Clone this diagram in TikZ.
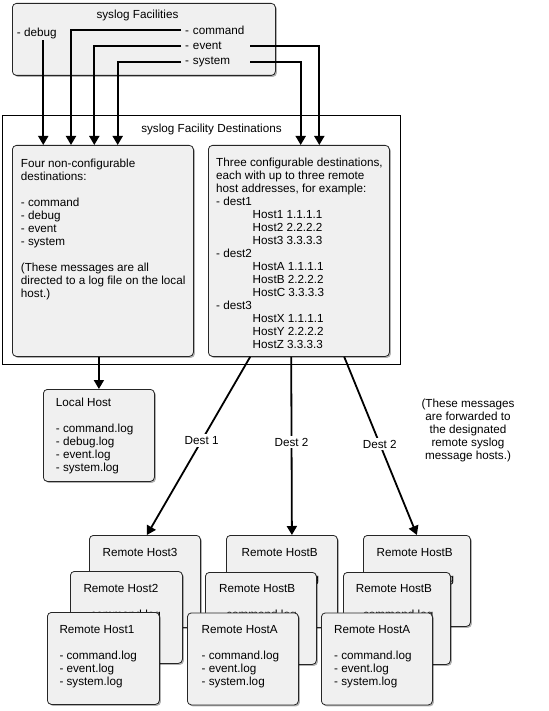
\documentclass[tikz,border=0pt]{standalone}
\usepackage{fontspec}
\setmainfont{Liberation Sans}
\usetikzlibrary{arrows.meta,shadows}
\newcommand{\fs}{\fontsize{11.7}{13}\selectfont}
\begin{document}
\begin{tikzpicture}[x=1pt,y=-1pt,
  box/.style={draw=black!85, fill=black!6, rounded corners=4pt, line width=0.8pt, anchor=north west, inner sep=0,
    drop shadow={shadow xshift=1.5pt, shadow yshift=-1.5pt, opacity=0.3, fill=black}},
  frame/.style={draw=black, line width=0.8pt, anchor=north west, inner sep=0},
  lbl/.style={inner sep=0, font=\fs},
  txt/.style={inner sep=0, font=\fs, anchor=north west, align=left},
  arr/.style={line width=1.8pt, -{Triangle[width=10pt,length=9pt]}},
  dlbl/.style={fill=white, inner sep=2pt, font=\fs}
]
\useasboundingbox (0,0) rectangle (548,711);

% facilities
\node[box, minimum width=263, minimum height=72] (fac) at (12,3) {};
\node[lbl, anchor=base] (factitle) at (137.5,19) {syslog Facilities};
\node[lbl, anchor=base west] (dbg) at (16.7,36.5) {- debug};
\node[lbl, anchor=base west, inner xsep=3pt, text width=62pt, align=left] (cmd) at (182,34.5) {- command};
\node[lbl, anchor=base west, inner xsep=3pt, text width=62pt, align=left] (evt) at (182,49.5) {- event};
\node[lbl, anchor=base west, inner xsep=3pt, text width=62pt, align=left] (sys) at (182,64.5) {- system};

% destinations frame
\node[frame, minimum width=398, minimum height=249] (dest) at (2,115) {};
\node[lbl, anchor=base] (desttitle) at (211.5,133) {syslog Facility Destinations};

\node[box, minimum width=181, minimum height=211] (left) at (12,145) {};
\node[txt] (lefttxt) at (20.7,157.9) {\strut Four non-configurable\\ destinations:\\[13pt]
- command\\ - debug\\ - event\\ - system\\[13pt]
(These messages are all\\ directed to a log file on the local\\ host.)};

\node[box, minimum width=181, minimum height=211] (right) at (208,145) {};
\node[txt] (righttxt) at (216,157.5) {\strut Three configurable destinations,\\
each with up to three remote\\ host addresses, for example:\\
- dest1\\ \hspace*{36.5pt}Host1 1.1.1.1\\ \hspace*{36.5pt}Host2 2.2.2.2\\ \hspace*{36.5pt}Host3 3.3.3.3\\
- dest2\\ \hspace*{36.5pt}HostA 1.1.1.1\\ \hspace*{36.5pt}HostB 2.2.2.2\\ \hspace*{36.5pt}HostC 3.3.3.3\\
- dest3\\ \hspace*{36.5pt}HostX 1.1.1.1\\ \hspace*{36.5pt}HostY 2.2.2.2\\ \hspace*{36.5pt}HostZ 3.3.3.3};

% local host
\node[box, minimum width=111, minimum height=92] (local) at (43,389) {};
\node[txt] (localtxt) at (55.7,397.4) {\strut Local Host\\[13pt] - command.log\\ - debug.log\\ - event.log\\ - system.log};

% note
\node[lbl, anchor=north, align=center] (note) at (468,398) {\strut(These messages\\ are forwarded to\\ the designated\\ remote syslog\\ message hosts.)};

% stack 1
\node[box, minimum width=111, minimum height=92] (h3) at (89,535) {};
\node[txt] (h3t) at (102.5,547) {\strut Remote Host3};
\node[box, minimum width=112, minimum height=92] (h2) at (70,571) {};
\node[txt] (h2t) at (83.3,583) {\strut Remote Host2\\[13pt] - command.log};
\node[box, minimum width=112, minimum height=92] (h1) at (47,612) {};
\node[txt] (h1t) at (59.3,624) {\strut Remote Host1\\[13pt] - command.log\\ - event.log\\ - system.log};

% stack 2
\node[box, minimum width=111, minimum height=92] (b2) at (226,535) {};
\node[txt] (b2t) at (241.5,547) {\strut Remote HostB\\[13pt] - command.log};
\node[box, minimum width=111, minimum height=92] (m2) at (205,572) {};
\node[txt] (m2t) at (219,583.5) {\strut Remote HostB\\[13pt] - command.log};
\node[box, minimum width=111, minimum height=92] (a2) at (187,612.5) {};
\node[txt] (a2t) at (201.5,624.5) {\strut Remote HostA\\[13pt] - command.log\\ - event.log\\ - system.log};

% stack 3
\node[box, minimum width=107, minimum height=91] (b3) at (363,535) {};
\node[txt] (b3t) at (376.5,547) {\strut Remote HostB\\[13pt] - command.log};
\node[box, minimum width=107, minimum height=92] (m3) at (343,572) {};
\node[txt] (m3t) at (355.7,583.5) {\strut Remote HostB\\[13pt] - command.log};
\node[box, minimum width=111, minimum height=92] (a3) at (321,612.5) {};
\node[txt] (a3t) at (334,624.5) {\strut Remote HostA\\[13pt] - command.log\\ - event.log\\ - system.log};

% facility arrows
\draw[arr] ([xshift=6.5pt,yshift=-1pt]dbg.south) -- ([xshift=6.5pt]dbg.south |- left.north);
\draw[arr] ([xshift=-1pt]cmd.west) -| ([xshift=59pt]left.north west);
\draw[arr] ([xshift=-1pt]evt.west) -| ([xshift=82.3pt]left.north west);
\draw[arr] ([xshift=-1pt]sys.west) -| ([xshift=105.7pt]left.north west);
\draw[arr] (evt.east) -| ([xshift=111.3pt]right.north west);
\draw[arr] (sys.east) -| ([xshift=92.7pt]right.north west);

% local
\draw[arr] (local.north |- left.south) -- (local.north);

% dest arrows
\draw[arr] ([xshift=-48.7pt]right.south) -- node[dlbl, pos=0.47] (d1) {Dest 1} ([xshift=2pt]h3.north);
\draw[arr] ([xshift=-7.7pt]right.south) -- node[dlbl, pos=0.48] (d2) {Dest 2} ([xshift=10pt]b2.north);
\draw[arr] ([xshift=45.3pt]right.south) -- node[dlbl, pos=0.49] (d3) {Dest 2} (b3.north);
\end{tikzpicture}
\end{document}
